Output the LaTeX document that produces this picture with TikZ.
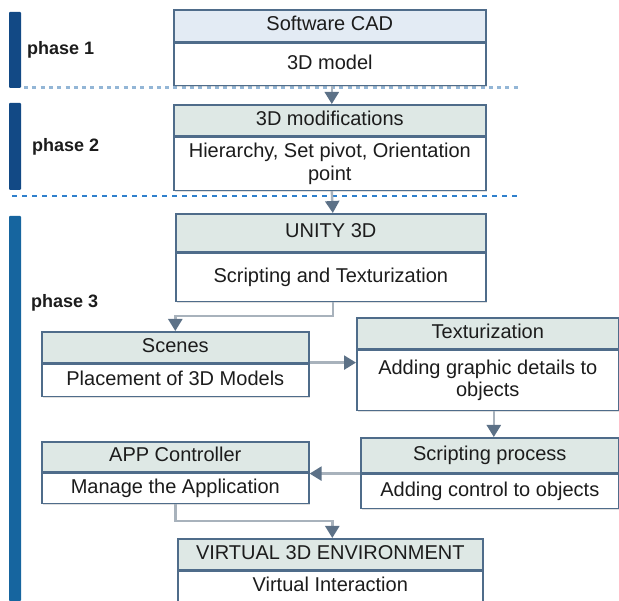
\documentclass[tikz,border=0pt]{standalone}
\usepackage{fontspec}
\setmainfont{Liberation Sans}
\usetikzlibrary{arrows.meta,shadows,calc}
\definecolor{edge}{HTML}{4F6C8A}
\definecolor{hdrA}{HTML}{E3EBF4}
\definecolor{hdrB}{HTML}{DEE8E5}
\definecolor{conn}{HTML}{A8B2BC}
\definecolor{tipc}{HTML}{5C7187}
\definecolor{barA}{HTML}{124985}
\definecolor{barB}{HTML}{16659F}
\definecolor{dotc}{HTML}{93B6D6}
\definecolor{dashc}{HTML}{2F80CC}
\definecolor{txt}{HTML}{1C1C1C}
\begin{document}
\begin{tikzpicture}[x=1pt,y=-1pt,
  cell/.style={draw=edge, line width=1.6pt, inner sep=0pt, anchor=north west, text=txt,
    font=\fontsize{20}{22.5}\selectfont, align=center,
    drop shadow={shadow xshift=1.5pt, shadow yshift=-1.5pt, opacity=0.25}},
  hdr/.style={cell, fill=hdrB, text height=14pt, text depth=4pt},
  bodyone/.style={cell, fill=white, text height=14pt, text depth=4pt},
  bodytwo/.style={cell, fill=white},
  phase/.style={anchor=west, text=txt, font=\bfseries\fontsize{18}{20}\selectfont, inner sep=0pt},
  link/.style={draw=conn, line width=2.4pt, -{Triangle[width=14pt,length=12pt,color=tipc]}},
]
\useasboundingbox (0,0) rectangle (619,601);

% phase bars
\fill[barA, rounded corners=1pt] (9,12) rectangle (21,88);
\fill[barA, rounded corners=1pt] (9,103) rectangle (21,190);
\fill[barB, rounded corners=1pt] (9,216) rectangle (21,601);

% separators
\draw[dotc, line width=3pt, dash pattern=on 4pt off 4.3pt] (24,88) -- (519,88);
\draw[dashc, line width=2.2pt, dash pattern=on 5pt off 5pt] (12,196) -- (519,196);

% phase labels
\node[phase] (p1) at (27,50) {phase 1};
\node[phase] (p2) at (32,147) {phase 2};
\node[phase] (p3) at (31,303) {phase 3};

% Software CAD
\node[hdr, fill=hdrA, minimum width=312pt, minimum height=32pt] (cadH) at (173,9) {Software CAD};
\node[bodyone, minimum width=312pt, minimum height=42pt] (cadB) at (cadH.south west) {3D model};

% 3D modifications
\node[hdr, minimum width=312pt, minimum height=31pt] (modH) at (173,104) {3D modifications};
\node[bodytwo, minimum width=312pt, minimum height=53pt] (modB) at (modH.south west) {Hierarchy, Set pivot, Orientation\\point};

% UNITY 3D
\node[hdr, minimum width=310pt, minimum height=38pt] (uniH) at (175,213) {UNITY 3D};
\node[bodyone, minimum width=310pt, minimum height=48pt] (uniB) at (uniH.south west) {Scripting and Texturization};

% Scenes
\node[hdr, minimum width=267pt, minimum height=31pt] (scnH) at (41,331) {Scenes};
\node[bodyone, minimum width=267pt, minimum height=32pt] (scnB) at (scnH.south west) {Placement of 3D Models};

% Texturization
\node[hdr, minimum width=262pt, minimum height=31pt] (texH) at (356,317) {Texturization};
\node[bodytwo, minimum width=262pt, minimum height=60pt] (texB) at (texH.south west) {Adding graphic details to\\objects};

% Scripting process
\node[hdr, minimum width=258pt, minimum height=35pt] (scrH) at (360,437) {Scripting process};
\node[bodyone, minimum width=258pt, minimum height=34pt] (scrB) at (scrH.south west) {Adding control to objects};

% APP Controller
\node[hdr, minimum width=267pt, minimum height=30pt] (appH) at (41,441) {APP Controller};
\node[bodyone, minimum width=267pt, minimum height=30pt] (appB) at (appH.south west) {Manage the Application};

% VIRTUAL 3D ENVIRONMENT
\node[hdr, minimum width=305pt, minimum height=31pt] (virH) at (177,538) {VIRTUAL 3D ENVIRONMENT};
\node[bodyone, minimum width=305pt, minimum height=31pt] (virB) at (virH.south west) {Virtual Interaction};

% connectors
\draw[link] ([xshift=2pt]cadB.south) -- ([xshift=2pt]modH.north);
\draw[link] ([xshift=2pt]modB.south) -- ([xshift=2pt]uniH.north);
\draw[link] ([xshift=2pt]uniB.south) -- ++(0,14) -| (scnH.north);
\draw[link] ([yshift=1pt]scnH.south east) -- ([yshift=1pt]scnH.south east -| texB.west);
\draw[link] ([xshift=6pt]texB.south) -- ([xshift=6pt]texB.south |- scrH.north);
\draw[link] (scrH.south west) -- (scrH.south west -| appH.east);
\draw[link] (appB.south) -- ++(0,17) -| ([xshift=2pt]virH.north);
\end{tikzpicture}
\end{document}
